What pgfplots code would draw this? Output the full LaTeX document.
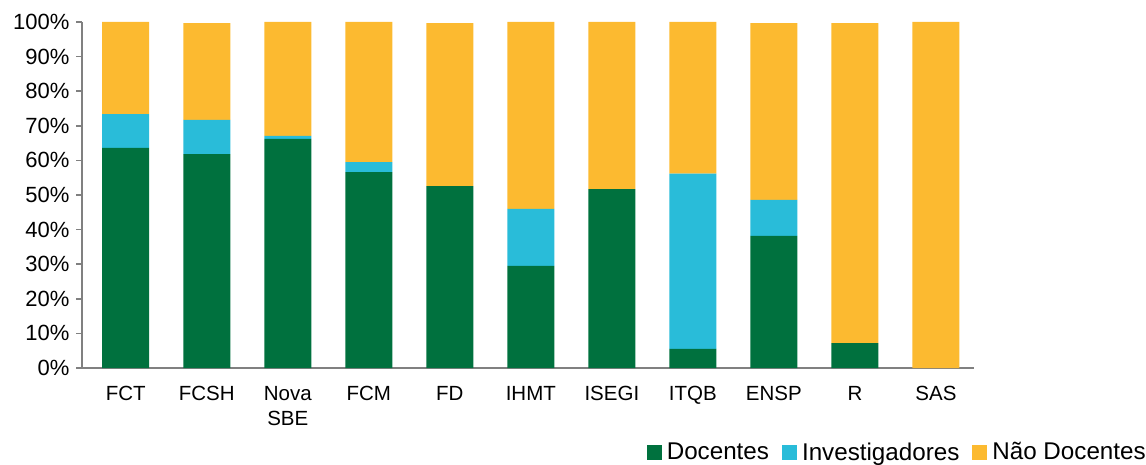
\documentclass[border=0pt]{standalone}
\usepackage{fontspec}
\setmainfont{Liberation Sans}
\usepackage{pgfplots}
\pgfplotsset{compat=1.18}
\definecolor{cgreen}{RGB}{0,113,62}
\definecolor{ccyan}{RGB}{41,188,217}
\definecolor{corange}{RGB}{252,186,48}
\definecolor{caxis}{RGB}{128,128,128}
\begin{document}
\begin{tikzpicture}
\begin{axis}[
  at={(0,0)}, anchor=south west,
  scale only axis, width=892bp, height=346bp,
  ybar stacked, bar width=47bp,
  xmin=-0.54, xmax=10.47, ymin=0, ymax=100,
  xtick={0,1,...,10},
  xticklabels={FCT,FCSH,{Nova\\SBE},FCM,FD,IHMT,ISEGI,ITQB,ENSP,R,SAS},
  xticklabel style={align=center, font=\fontsize{20.5bp}{25bp}\selectfont, yshift=-9bp},
  xtick style={draw=none},
  ytick={0,10,...,100},
  yticklabels={0\%,10\%,20\%,30\%,40\%,50\%,60\%,70\%,80\%,90\%,100\%},
  yticklabel style={font=\fontsize{22bp}{26bp}\selectfont, xshift=-3bp},
  axis x line*=bottom, axis y line*=left,
  axis line style={caxis, line width=2bp},
  ytick style={caxis, line width=1.5bp},
  major tick length=6bp, tick align=outside,
  legend columns=-1,
  legend style={at={(1.195,-0.2428)}, anchor=east, draw=none, fill=none,
    inner sep=0pt, font=\fontsize{24.2bp}{28bp}\selectfont,
    /tikz/every even column/.append style={column sep=11bp}},
  legend image code/.code={\path[#1] (0bp,-7.5bp) rectangle (15bp,7.5bp); \path (18bp,0bp);},
]
\addplot+[fill=cgreen, draw=none] coordinates {(0,63.6) (1,61.8) (2,66.2) (3,56.6) (4,52.6) (5,29.5) (6,51.7) (7,5.5) (8,38.2) (9,7.2) (10,0)};
\addplot+[fill=ccyan, draw=none] coordinates {(0,9.8) (1,9.9) (2,0.9) (3,2.9) (4,0) (5,16.5) (6,0) (7,50.7) (8,10.4) (9,0) (10,0)};
\addplot+[fill=corange, draw=none] coordinates {(0,26.6) (1,28.0) (2,32.9) (3,40.5) (4,47.1) (5,54.0) (6,48.3) (7,43.8) (8,51.1) (9,92.5) (10,100)};
\legend{Docentes,Investigadores,Não Docentes}
\end{axis}
\pgfresetboundingbox
\useasboundingbox (-82bp,-97bp) rectangle (1064bp,368bp);
\end{tikzpicture}
\end{document}
